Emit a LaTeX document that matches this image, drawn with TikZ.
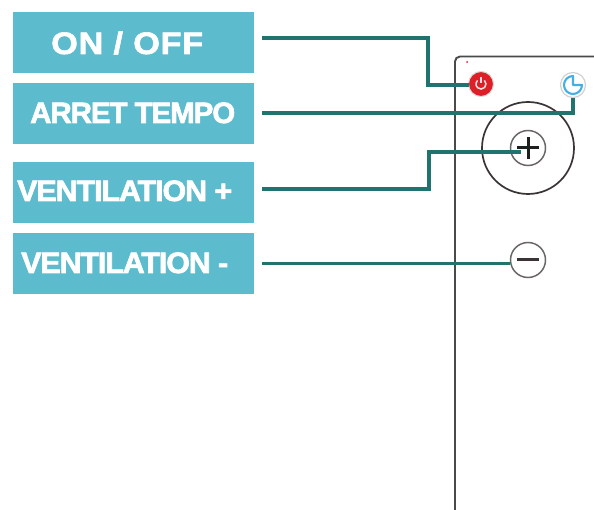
\documentclass[tikz,border=0pt]{standalone}
\usepackage{fontspec}
\usetikzlibrary{calc}
\setmainfont{Liberation Sans}
\newfontfamily\heavywide{Liberation Sans Bold}[FakeBold=1.8,LetterSpace=2]
\newfontfamily\heavytight{Liberation Sans Bold}[FakeBold=2.2,LetterSpace=-3.5]
\definecolor{boxcol}{HTML}{5CBBCC}
\definecolor{linkcol}{HTML}{20736F}
\definecolor{panelcol}{HTML}{4A4A4A}
\definecolor{ringcol}{HTML}{3A3534}
\definecolor{redcol}{HTML}{DD2027}
\definecolor{bluecol}{HTML}{45AEE3}
\newcommand{\lblwide}[2]{\resizebox{#1pt}{\height}{\fontsize{31}{31}\heavywide #2}}
\newcommand{\lbltight}[2]{\resizebox{#1pt}{\height}{\fontsize{29.5}{30}\heavytight #2}}
\tikzset{
  x=1pt,y=-1pt,
  labelbox/.style={fill=boxcol,draw=none,minimum width=241pt,minimum height=61pt,inner sep=0pt,anchor=north west},
  labeltext/.style={text=white,inner sep=0pt,anchor=base west},
  link/.style={draw=linkcol,line width=3.6pt},
  thinlink/.style={draw=linkcol,line width=3pt},
  ring/.style={circle,draw=ringcol!75,line width=1.5pt,inner sep=0pt,minimum size=35pt},
  glyph/.style={draw=black!88,line width=3pt}
}
\begin{document}
\begin{tikzpicture}
\useasboundingbox (0,0) rectangle (594,510);
\fill[white] (0,0) rectangle (594,510);
% panel
\draw[panelcol,line width=1.9pt,rounded corners=5pt] (455,510) -- (455,56.5) -- (594,56.5);
\fill[redcol] (467,62) circle (1pt);
% boxes
\node[labelbox] (b1) at (13,12) {};
\node[labelbox] (b2) at (13,83) {};
\node[labelbox] (b3) at (13,162) {};
\node[labelbox] (b4) at (13,233) {};
\node[labeltext] (t1) at (51,54) {\lblwide{152}{ON / OFF}};
\node[labeltext] (t2) at (30,123) {\lbltight{205}{ARRET TEMPO}};
\node[labeltext] (t3) at (17,201) {\lbltight{215}{VENTILATION +}};
\node[labeltext] (t4) at (21,273) {\lbltight{207}{VENTILATION -}};
% buttons
\node[circle,fill=redcol,draw=black!15,line width=1pt,inner sep=0pt,minimum size=25pt] (pwr) at (481,84) {};
\draw[white!85!redcol,line width=1.5pt] ($(pwr.center)+(3.4,-3.6)$) arc[start angle=47,end angle=-227,radius=5pt];
\draw[white!85!redcol,line width=1.5pt] ($(pwr.center)+(0,-7)$) -- ($(pwr.center)+(0,-1)$);
\node[circle,draw=black!18,line width=1.2pt,inner sep=0pt,minimum size=25pt] (clk) at (573,85) {};
\draw[bluecol,line width=2.1pt,line join=round] (573,76) arc[start angle=90,end angle=360,radius=9pt] -- (573,85) -- cycle;
\node[circle,draw=ringcol,line width=1.7pt,inner sep=0pt,minimum size=92pt] (wheel) at (528,148) {};
\node[ring] (plus) at (528,148) {};
\node[ring] (minus) at (528,260) {};
% connectors
\coordinate (s1) at (262,38);
\coordinate (s2) at (262,113);
\coordinate (s3) at (262,189);
\coordinate (s4) at (262,264);
\coordinate (e3) at (521,152);
\coordinate (e1) at (469,85);
\draw[link] (s1) -- (428,38) -- (428,85) -- (e1);
\draw[link] (s2) -- (573,113) -- (clk.south);
\draw[link] (s3) -- (429,189) -- (429,152) -- (e3);
\draw[thinlink] (s4) -- (minus.west |- s4);
% button glyphs, over the connectors
\draw[glyph] (517,148) -- (539,148) (528,137) -- (528,159);
\draw[glyph,draw=ringcol] (517,260) -- (539,260);
\end{tikzpicture}
\end{document}
